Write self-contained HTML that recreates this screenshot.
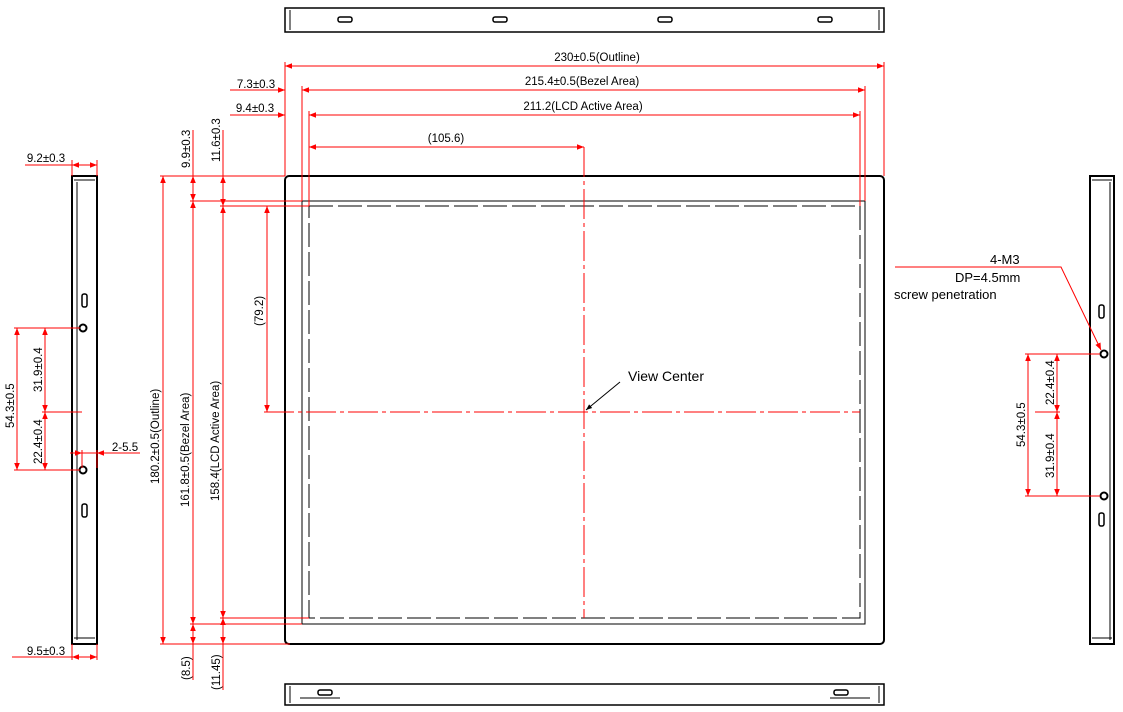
<!DOCTYPE html>
<html><head><meta charset="utf-8"><style>
html,body{margin:0;padding:0;background:#fff;}
svg{display:block;font-family:"Liberation Sans",sans-serif;}
text{font-size:11.5px;fill:#000;}
.r{stroke:#f00;stroke-width:1;fill:none;}
.k{stroke:#000;fill:none;}
</style></head><body>
<svg width="1123" height="712" viewBox="0 0 1123 712" xmlns="http://www.w3.org/2000/svg">
<defs>
<marker id="a" viewBox="0 0 10 10" refX="10" refY="5" markerWidth="9" markerHeight="7" orient="auto-start-reverse"><path d="M0,1 L10,5 L0,9 z" fill="#f00"/></marker>
<marker id="b" viewBox="0 0 10 10" refX="10" refY="5" markerWidth="8" markerHeight="6" orient="auto"><path d="M0,1 L10,5 L0,9 z" fill="#000"/></marker>
</defs>

<!-- top view -->
<rect x="285" y="8" width="599" height="24" class="k" stroke-width="1.5"/>
<line x1="290" y1="10" x2="290" y2="30" class="k"/><line x1="879" y1="10" x2="879" y2="30" class="k"/>
<g class="k" stroke-width="1.5"><rect x="338" y="17" width="14" height="5" rx="2"/><rect x="493" y="17" width="14" height="5" rx="2"/><rect x="658" y="17" width="14" height="5" rx="2"/><rect x="818" y="17" width="14" height="5" rx="2"/></g>
<!-- bottom view -->
<rect x="285" y="684" width="599" height="21" class="k" stroke-width="1.5"/>
<line x1="290" y1="686" x2="290" y2="703" class="k"/><line x1="879" y1="686" x2="879" y2="703" class="k"/>
<line x1="300" y1="698" x2="340" y2="698" class="k"/><line x1="830" y1="698" x2="870" y2="698" class="k"/>
<g class="k" stroke-width="1.5"><rect x="318" y="690" width="14" height="5" rx="2"/><rect x="834" y="690" width="14" height="5" rx="2"/></g>

<!-- main panel -->
<rect x="285" y="176" width="599" height="468" rx="4" class="k" stroke-width="2"/>
<rect x="302" y="201" width="563" height="423" class="k" stroke-width="1"/>
<rect x="309" y="206" width="551" height="412" class="k" stroke-width="1" stroke-dasharray="24,5"/>
<line x1="584" y1="147" x2="584" y2="618" class="r" stroke-dasharray="30,4,4,4"/>
<line x1="264" y1="412" x2="860" y2="412" class="r" stroke-dasharray="30,4,4,4"/>
<line x1="620" y1="382" x2="586" y2="410" stroke="#000" marker-end="url(#b)"/>
<text x="628" y="381" style="font-size:14px">View Center</text>

<!-- top dims -->
<g class="r">
<line x1="285" y1="62" x2="285" y2="176"/><line x1="884" y1="62" x2="884" y2="176"/>
<line x1="302" y1="86" x2="302" y2="201"/><line x1="865" y1="86" x2="865" y2="201"/>
<line x1="309" y1="111" x2="309" y2="206"/><line x1="860" y1="111" x2="860" y2="206"/>
<line x1="285" y1="66" x2="884" y2="66" marker-start="url(#a)" marker-end="url(#a)"/>
<line x1="302" y1="90" x2="865" y2="90" marker-start="url(#a)" marker-end="url(#a)"/>
<line x1="309" y1="115" x2="860" y2="115" marker-start="url(#a)" marker-end="url(#a)"/>
<line x1="309" y1="147" x2="584" y2="147" marker-start="url(#a)" marker-end="url(#a)"/>
<line x1="230" y1="90" x2="285" y2="90" marker-end="url(#a)"/>
<line x1="230" y1="115" x2="285" y2="115" marker-end="url(#a)"/>
</g>
<text x="597" y="61" text-anchor="middle">230±0.5(Outline)</text>
<text x="582" y="85" text-anchor="middle">215.4±0.5(Bezel Area)</text>
<text x="583" y="110" text-anchor="middle">211.2(LCD Active Area)</text>
<text x="446" y="142" text-anchor="middle">(105.6)</text>
<text x="256" y="88" text-anchor="middle">7.3±0.3</text>
<text x="255" y="112" text-anchor="middle">9.4±0.3</text>

<!-- left vertical dims -->
<g class="r">
<line x1="160" y1="176" x2="285" y2="176"/><line x1="190" y1="201" x2="302" y2="201"/><line x1="220" y1="206" x2="309" y2="206"/>
<line x1="190" y1="624" x2="302" y2="624"/><line x1="220" y1="618" x2="309" y2="618"/><line x1="160" y1="644" x2="290" y2="644"/>
<line x1="163" y1="176" x2="163" y2="644" marker-start="url(#a)" marker-end="url(#a)"/>
<line x1="193" y1="130" x2="193" y2="176"/>
<line x1="193" y1="176" x2="193" y2="201" marker-start="url(#a)" marker-end="url(#a)"/>
<line x1="193" y1="201" x2="193" y2="624" marker-start="url(#a)" marker-end="url(#a)"/>
<line x1="193" y1="624" x2="193" y2="644" marker-start="url(#a)" marker-end="url(#a)"/>
<line x1="193" y1="644" x2="193" y2="680"/>
<line x1="223" y1="130" x2="223" y2="176"/>
<line x1="223" y1="176" x2="223" y2="206" marker-start="url(#a)" marker-end="url(#a)"/>
<line x1="223" y1="206" x2="223" y2="618" marker-start="url(#a)" marker-end="url(#a)"/>
<line x1="223" y1="618" x2="223" y2="644" marker-start="url(#a)" marker-end="url(#a)"/>
<line x1="223" y1="644" x2="223" y2="690"/>
<line x1="267" y1="206" x2="267" y2="412" marker-start="url(#a)" marker-end="url(#a)"/>
</g>
<text transform="translate(159,484) rotate(-90)">180.2±0.5(Outline)</text>
<text transform="translate(189,507) rotate(-90)">161.8±0.5(Bezel Area)</text>
<text transform="translate(219,501) rotate(-90)">158.4(LCD Active Area)</text>
<text transform="translate(263,326) rotate(-90)">(79.2)</text>
<text transform="translate(190,168) rotate(-90)">9.9±0.3</text>
<text transform="translate(220,162) rotate(-90)">11.6±0.3</text>
<text transform="translate(190,680) rotate(-90)">(8.5)</text>
<text transform="translate(220,690) rotate(-90)">(11.45)</text>

<!-- left side view -->
<rect x="72" y="176" width="25" height="468" class="k" stroke-width="2"/>
<line x1="77" y1="182" x2="77" y2="640" class="k"/>
<line x1="74" y1="180" x2="95" y2="180" class="k"/><line x1="74" y1="638" x2="95" y2="638" class="k"/>
<g class="k" stroke-width="1.5"><rect x="82" y="294" width="5" height="13" rx="2"/><rect x="82" y="504" width="5" height="13" rx="2"/>
<circle cx="83" cy="328" r="3.5" stroke-width="2"/><circle cx="83" cy="470" r="3.5" stroke-width="2"/></g>
<g class="r">
<line x1="14" y1="328" x2="80" y2="328"/><line x1="14" y1="470" x2="80" y2="470"/><line x1="42" y1="412" x2="82" y2="412"/>
<line x1="17" y1="328" x2="17" y2="470" marker-start="url(#a)" marker-end="url(#a)"/>
<line x1="45" y1="328" x2="45" y2="412" marker-start="url(#a)" marker-end="url(#a)"/>
<line x1="45" y1="412" x2="45" y2="470" marker-start="url(#a)" marker-end="url(#a)"/>
<line x1="72" y1="160" x2="72" y2="176"/><line x1="97" y1="160" x2="97" y2="176"/>
<line x1="25" y1="165" x2="72" y2="165"/><line x1="72" y1="165" x2="97" y2="165" marker-start="url(#a)" marker-end="url(#a)"/>
<line x1="72" y1="644" x2="72" y2="660"/><line x1="97" y1="644" x2="97" y2="660"/>
<line x1="12" y1="657" x2="72" y2="657"/><line x1="72" y1="657" x2="97" y2="657" marker-start="url(#a)" marker-end="url(#a)"/>
<line x1="82" y1="450" x2="82" y2="468"/><line x1="97" y1="450" x2="97" y2="468"/>
<line x1="70" y1="453" x2="82" y2="453" marker-end="url(#a)"/><line x1="82" y1="453" x2="97" y2="453"/>
<line x1="140" y1="453" x2="97" y2="453" marker-end="url(#a)"/>
</g>
<text x="46" y="162" text-anchor="middle">9.2±0.3</text>
<text x="46" y="655" text-anchor="middle">9.5±0.3</text>
<text x="125" y="451" text-anchor="middle">2-5.5</text>
<text transform="translate(14,428) rotate(-90)">54.3±0.5</text>
<text transform="translate(42,392) rotate(-90)">31.9±0.4</text>
<text transform="translate(42,464) rotate(-90)">22.4±0.4</text>

<!-- right side view -->
<rect x="1090" y="176" width="24" height="468" class="k" stroke-width="2"/>
<line x1="1110" y1="182" x2="1110" y2="640" class="k"/>
<line x1="1092" y1="180" x2="1112" y2="180" class="k"/><line x1="1092" y1="638" x2="1112" y2="638" class="k"/>
<g class="k" stroke-width="1.5"><rect x="1099" y="305" width="5" height="13" rx="2"/><rect x="1099" y="513" width="5" height="13" rx="2"/>
<circle cx="1104" cy="354" r="3.5" stroke-width="2"/><circle cx="1104" cy="496" r="3.5" stroke-width="2"/></g>
<g class="r">
<line x1="1025" y1="354" x2="1100" y2="354"/><line x1="1025" y1="496" x2="1100" y2="496"/><line x1="1035" y1="412" x2="1060" y2="412"/>
<line x1="1028" y1="354" x2="1028" y2="496" marker-start="url(#a)" marker-end="url(#a)"/>
<line x1="1057" y1="354" x2="1057" y2="412" marker-start="url(#a)" marker-end="url(#a)"/>
<line x1="1057" y1="412" x2="1057" y2="496" marker-start="url(#a)" marker-end="url(#a)"/>
<polyline points="895,267 1061,267 1101,350" marker-end="url(#a)"/>
</g>
<text transform="translate(1025,447) rotate(-90)">54.3±0.5</text>
<text transform="translate(1054,405) rotate(-90)">22.4±0.4</text>
<text transform="translate(1054,478) rotate(-90)">31.9±0.4</text>
<text x="990" y="264" style="font-size:13px">4-M3</text>
<text x="955" y="282" style="font-size:13px">DP=4.5mm</text>
<text x="894" y="299" style="font-size:13px">screw penetration</text>
</svg>
</body></html>
